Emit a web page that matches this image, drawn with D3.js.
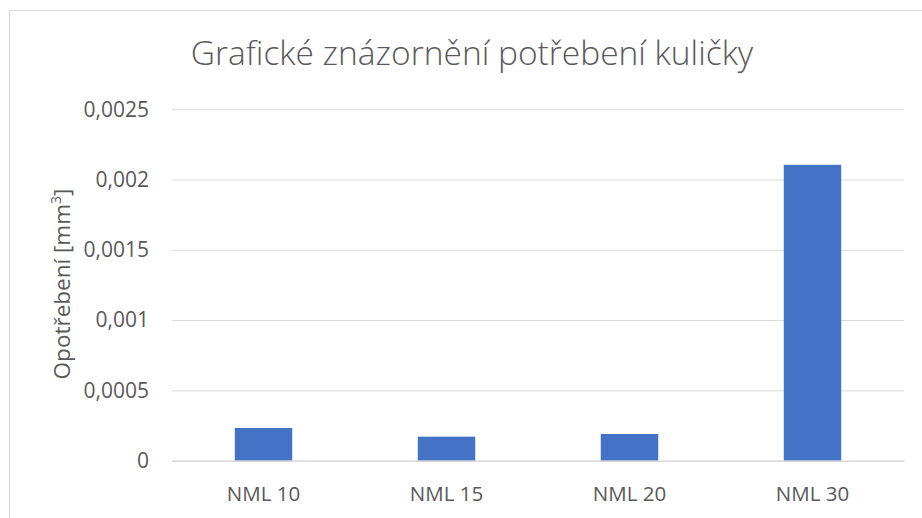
<!DOCTYPE html>
<html>
<head>
<meta charset="utf-8">
<script src="https://cdn.jsdelivr.net/npm/d3@7"></script>
<style>
  body { margin: 0; background: #fff; }
  text { font-family: "Open Sans", Lato, sans-serif; fill: #595959; }
</style>
</head>
<body>
<div id="chart"></div>
<script>
// chart data
var categories = ["NML 10", "NML 15", "NML 20", "NML 30"];
var values = [0.000233, 0.000171, 0.00019, 0.002105];
var yTicks = [0, 0.0005, 0.001, 0.0015, 0.002, 0.0025];

var width = 922, height = 518;
var plotLeft = 172, plotRight = 904, plotTop = 109.3, plotBottom = 460.7;

var svg = d3.select("#chart").append("svg")
	.attr("width", width)
	.attr("height", height);

// chart frame
svg.append("rect")
	.attr("x", 9.5).attr("y", 10.5)
	.attr("width", 940).attr("height", 560)
	.attr("fill", "#fff")
	.attr("stroke", "#d9d9d9");

var x = d3.scaleBand().domain(categories).range([plotLeft, plotRight]).paddingInner(0.686).paddingOuter(0.343);
var y = d3.scaleLinear().domain([0, 0.0025]).range([plotBottom, plotTop]);

var fmt = function(d){ return String(d).replace(".", ","); };

// gridlines + y labels
var yAxis = svg.append("g")
	.attr("transform", "translate(" + plotLeft + ",0)")
	.call(d3.axisLeft(y).tickValues(yTicks).tickSize(-(plotRight - plotLeft)).tickPadding(23).tickFormat(fmt));
yAxis.select(".domain").remove();
yAxis.selectAll(".tick line").attr("stroke", "#d9d9d9");
yAxis.selectAll(".tick text").attr("font-size", 21).attr("fill", "#595959");

// bars
svg.selectAll("rect.bar")
	.data(values)
	.enter().append("rect")
	.attr("class", "bar")
	.attr("x", function(d, i){ return x(categories[i]); })
	.attr("y", function(d){ return y(d); })
	.attr("width", x.bandwidth())
	.attr("height", function(d){ return plotBottom - y(d); })
	.attr("fill", "#4472c4");

// x axis
var xAxis = svg.append("g")
	.attr("transform", "translate(0," + plotBottom + ")")
	.call(d3.axisBottom(x).tickSize(0));
xAxis.select(".domain").attr("stroke", "#d9d9d9").attr("stroke-width", 1.5);
xAxis.selectAll(".tick text")
	.attr("font-size", 20.5)
	.attr("fill", "#595959")
	.attr("dy", null)
	.attr("y", 40);

// title
svg.append("text")
	.attr("x", 472).attr("y", 65)
	.attr("text-anchor", "middle")
	.attr("font-size", 33.5)
	.attr("font-weight", 300)
	.text("Grafické znázornění potřebení kuličky");

// y axis title
var yt = svg.append("text")
	.attr("transform", "translate(70,284) rotate(-90)")
	.attr("text-anchor", "middle")
	.attr("font-size", 22.5);
yt.append("tspan").text("Opotřebení [mm");
yt.append("tspan").attr("baseline-shift", "super").attr("font-size", 14).text("3");
yt.append("tspan").text("]");
</script>
</body>
</html>
